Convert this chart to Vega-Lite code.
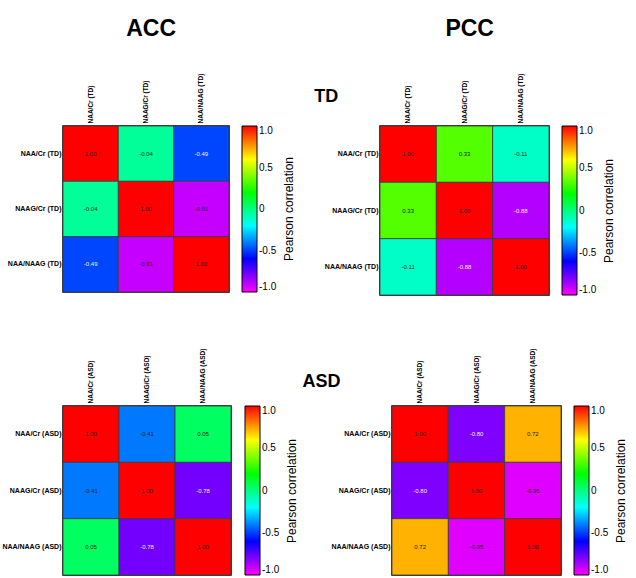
{
  "$schema": "https://vega.github.io/schema/vega-lite/v6.json",
  "background": "white",
  "padding": {"left": 1, "top": 17, "right": 0, "bottom": 0},
  "config": {
    "font": "Liberation Sans",
    "locale": {"number": {"decimal": ".", "thousands": ",", "grouping": [3], "currency": ["$", ""], "minus": "-"}},
    "view": {"stroke": "black", "strokeWidth": 1.5},
    "axis": {"labelColor": "black", "ticks": false, "domain": false, "grid": false},
    "legend": {"labelColor": "black", "titleColor": "black"}
  },
  "datasets": {
    "acc_td": [
      {"row": "NAA/Cr (TD)", "col": "NAA/Cr (TD)", "r": 1.0},
      {"row": "NAA/Cr (TD)", "col": "NAAG/Cr (TD)", "r": -0.04},
      {"row": "NAA/Cr (TD)", "col": "NAA/NAAG (TD)", "r": -0.49},
      {"row": "NAAG/Cr (TD)", "col": "NAA/Cr (TD)", "r": -0.04},
      {"row": "NAAG/Cr (TD)", "col": "NAAG/Cr (TD)", "r": 1.0},
      {"row": "NAAG/Cr (TD)", "col": "NAA/NAAG (TD)", "r": -0.91},
      {"row": "NAA/NAAG (TD)", "col": "NAA/Cr (TD)", "r": -0.49},
      {"row": "NAA/NAAG (TD)", "col": "NAAG/Cr (TD)", "r": -0.91},
      {"row": "NAA/NAAG (TD)", "col": "NAA/NAAG (TD)", "r": 1.0}
    ],
    "pcc_td": [
      {"row": "NAA/Cr (TD)", "col": "NAA/Cr (TD)", "r": 1.0},
      {"row": "NAA/Cr (TD)", "col": "NAAG/Cr (TD)", "r": 0.33},
      {"row": "NAA/Cr (TD)", "col": "NAA/NAAG (TD)", "r": -0.11},
      {"row": "NAAG/Cr (TD)", "col": "NAA/Cr (TD)", "r": 0.33},
      {"row": "NAAG/Cr (TD)", "col": "NAAG/Cr (TD)", "r": 1.0},
      {"row": "NAAG/Cr (TD)", "col": "NAA/NAAG (TD)", "r": -0.88},
      {"row": "NAA/NAAG (TD)", "col": "NAA/Cr (TD)", "r": -0.11},
      {"row": "NAA/NAAG (TD)", "col": "NAAG/Cr (TD)", "r": -0.88},
      {"row": "NAA/NAAG (TD)", "col": "NAA/NAAG (TD)", "r": 1.0}
    ],
    "acc_asd": [
      {"row": "NAA/Cr (ASD)", "col": "NAA/Cr (ASD)", "r": 1.0},
      {"row": "NAA/Cr (ASD)", "col": "NAAG/Cr (ASD)", "r": -0.41},
      {"row": "NAA/Cr (ASD)", "col": "NAA/NAAG (ASD)", "r": 0.05},
      {"row": "NAAG/Cr (ASD)", "col": "NAA/Cr (ASD)", "r": -0.41},
      {"row": "NAAG/Cr (ASD)", "col": "NAAG/Cr (ASD)", "r": 1.0},
      {"row": "NAAG/Cr (ASD)", "col": "NAA/NAAG (ASD)", "r": -0.78},
      {"row": "NAA/NAAG (ASD)", "col": "NAA/Cr (ASD)", "r": 0.05},
      {"row": "NAA/NAAG (ASD)", "col": "NAAG/Cr (ASD)", "r": -0.78},
      {"row": "NAA/NAAG (ASD)", "col": "NAA/NAAG (ASD)", "r": 1.0}
    ],
    "pcc_asd": [
      {"row": "NAA/Cr (ASD)", "col": "NAA/Cr (ASD)", "r": 1.0},
      {"row": "NAA/Cr (ASD)", "col": "NAAG/Cr (ASD)", "r": -0.80},
      {"row": "NAA/Cr (ASD)", "col": "NAA/NAAG (ASD)", "r": 0.72},
      {"row": "NAAG/Cr (ASD)", "col": "NAA/Cr (ASD)", "r": -0.80},
      {"row": "NAAG/Cr (ASD)", "col": "NAAG/Cr (ASD)", "r": 1.0},
      {"row": "NAAG/Cr (ASD)", "col": "NAA/NAAG (ASD)", "r": -0.95},
      {"row": "NAA/NAAG (ASD)", "col": "NAA/Cr (ASD)", "r": 0.72},
      {"row": "NAA/NAAG (ASD)", "col": "NAAG/Cr (ASD)", "r": -0.95},
      {"row": "NAA/NAAG (ASD)", "col": "NAA/NAAG (ASD)", "r": 1.0}
    ]
  },
  "spacing": 50,
  "resolve": {"scale": {"color": "independent"}, "legend": {"color": "independent"}},
  "vconcat": [
    {
      "title": {"text": "TD", "fontSize": 18, "fontWeight": "bold", "anchor": "middle", "offset": -89, "dx": 15},
      "spacing": 27,
      "resolve": {"scale": {"color": "independent"}, "legend": {"color": "independent"}},
      "hconcat": [
        {
          "width": 166, "height": 166,
          "title": {"text": "ACC", "fontSize": 23, "fontWeight": "bold", "offset": 32, "anchor": "middle", "frame": "bounds"},
          "data": {"name": "acc_td"},
          "encoding": {
            "x": {"field": "col", "type": "nominal", "sort": ["NAA/Cr (TD)", "NAAG/Cr (TD)", "NAA/NAAG (TD)"], "title": null, "axis": {"orient": "top", "labelAngle": -90, "labelFontSize": 6.5, "labelFontWeight": "bold", "labelPadding": 3}},
            "y": {"field": "row", "type": "nominal", "sort": ["NAA/Cr (TD)", "NAAG/Cr (TD)", "NAA/NAAG (TD)"], "title": null, "axis": {"labelFontSize": 7, "labelFontWeight": "bold", "labelPadding": 2}}
          },
          "layer": [
            {"mark": {"type": "rect", "stroke": "#3a3a3a", "strokeWidth": 0.8},
             "encoding": {"color": {"field": "r", "type": "quantitative",
               "scale": {"domain": [-1, -0.6, -0.2, 0.2, 0.6, 1], "range": ["#ff00ff", "#0000ff", "#00ffff", "#00ff00", "#ffff00", "#ff0000"], "interpolate": "rgb"},
               "legend": {"title": "Pearson correlation", "titleOrient": "right", "titlePadding": 8, "gradientLength": 166, "gradientThickness": 15, "values": [-1, -0.5, 0, 0.5, 1], "labelExpr": "datum.value == 0 ? '0' : format(datum.value, '.1f')", "labelFontSize": 10, "titleFontSize": 12, "titleFontWeight": "normal", "offset": 13, "gradientStrokeColor": "black", "gradientStrokeWidth": 1, "encode": {"title": {"update": {"angle": {"value": -90}, "baseline": {"value": "top"}}}}}}}},
            {"mark": {"type": "text", "fontSize": 6},
             "encoding": {"text": {"field": "r", "type": "quantitative", "format": ".2f"},
               "color": {"condition": {"test": "datum.r <= -0.45 && datum.r >= -0.89", "value": "#f2f2f2"}, "value": "#222222"}}}
          ]
        },
        {
          "width": 169, "height": 169,
          "title": {"text": "PCC", "fontSize": 23, "fontWeight": "bold", "offset": 32, "anchor": "middle", "frame": "bounds"},
          "data": {"name": "pcc_td"},
          "encoding": {
            "x": {"field": "col", "type": "nominal", "sort": ["NAA/Cr (TD)", "NAAG/Cr (TD)", "NAA/NAAG (TD)"], "title": null, "axis": {"orient": "top", "labelAngle": -90, "labelFontSize": 6.5, "labelFontWeight": "bold", "labelPadding": 3}},
            "y": {"field": "row", "type": "nominal", "sort": ["NAA/Cr (TD)", "NAAG/Cr (TD)", "NAA/NAAG (TD)"], "title": null, "axis": {"labelFontSize": 7, "labelFontWeight": "bold", "labelPadding": 2}}
          },
          "layer": [
            {"mark": {"type": "rect", "stroke": "#3a3a3a", "strokeWidth": 0.8},
             "encoding": {"color": {"field": "r", "type": "quantitative",
               "scale": {"domain": [-1, -0.6, -0.2, 0.2, 0.6, 1], "range": ["#ff00ff", "#0000ff", "#00ffff", "#00ff00", "#ffff00", "#ff0000"], "interpolate": "rgb"},
               "legend": {"title": "Pearson correlation", "titleOrient": "right", "titlePadding": 8, "gradientLength": 169, "gradientThickness": 15, "values": [-1, -0.5, 0, 0.5, 1], "labelExpr": "datum.value == 0 ? '0' : format(datum.value, '.1f')", "labelFontSize": 10, "titleFontSize": 12, "titleFontWeight": "normal", "offset": 13, "gradientStrokeColor": "black", "gradientStrokeWidth": 1, "encode": {"title": {"update": {"angle": {"value": -90}, "baseline": {"value": "top"}}}}}}}},
            {"mark": {"type": "text", "fontSize": 6},
             "encoding": {"text": {"field": "r", "type": "quantitative", "format": ".2f"},
               "color": {"condition": {"test": "datum.r <= -0.45 && datum.r >= -0.89", "value": "#f2f2f2"}, "value": "#222222"}}}
          ]
        }
      ]
    },
    {
      "title": {"text": "ASD", "fontSize": 18, "fontWeight": "bold", "anchor": "middle", "offset": -44, "dx": 7},
      "spacing": 31,
      "resolve": {"scale": {"color": "independent"}, "legend": {"color": "independent"}},
      "hconcat": [
        {
          "width": 168, "height": 169,
          "data": {"name": "acc_asd"},
          "encoding": {
            "x": {"field": "col", "type": "nominal", "sort": ["NAA/Cr (ASD)", "NAAG/Cr (ASD)", "NAA/NAAG (ASD)"], "title": null, "axis": {"orient": "top", "labelAngle": -90, "labelFontSize": 6.5, "labelFontWeight": "bold", "labelPadding": 3}},
            "y": {"field": "row", "type": "nominal", "sort": ["NAA/Cr (ASD)", "NAAG/Cr (ASD)", "NAA/NAAG (ASD)"], "title": null, "axis": {"labelFontSize": 7, "labelFontWeight": "bold", "labelPadding": 2}}
          },
          "layer": [
            {"mark": {"type": "rect", "stroke": "#3a3a3a", "strokeWidth": 0.8},
             "encoding": {"color": {"field": "r", "type": "quantitative",
               "scale": {"domain": [-1, -0.6, -0.2, 0.2, 0.6, 1], "range": ["#ff00ff", "#0000ff", "#00ffff", "#00ff00", "#ffff00", "#ff0000"], "interpolate": "rgb"},
               "legend": {"title": "Pearson correlation", "titleOrient": "right", "titlePadding": 8, "gradientLength": 169, "gradientThickness": 15, "values": [-1, -0.5, 0, 0.5, 1], "labelExpr": "datum.value == 0 ? '0' : format(datum.value, '.1f')", "labelFontSize": 10, "titleFontSize": 12, "titleFontWeight": "normal", "offset": 14, "gradientStrokeColor": "black", "gradientStrokeWidth": 1, "encode": {"title": {"update": {"angle": {"value": -90}, "baseline": {"value": "top"}}}}}}}},
            {"mark": {"type": "text", "fontSize": 6},
             "encoding": {"text": {"field": "r", "type": "quantitative", "format": ".2f"},
               "color": {"condition": {"test": "datum.r <= -0.45 && datum.r >= -0.89", "value": "#f2f2f2"}, "value": "#222222"}}}
          ]
        },
        {
          "width": 169, "height": 169,
          "data": {"name": "pcc_asd"},
          "encoding": {
            "x": {"field": "col", "type": "nominal", "sort": ["NAA/Cr (ASD)", "NAAG/Cr (ASD)", "NAA/NAAG (ASD)"], "title": null, "axis": {"orient": "top", "labelAngle": -90, "labelFontSize": 6.5, "labelFontWeight": "bold", "labelPadding": 3}},
            "y": {"field": "row", "type": "nominal", "sort": ["NAA/Cr (ASD)", "NAAG/Cr (ASD)", "NAA/NAAG (ASD)"], "title": null, "axis": {"labelFontSize": 7, "labelFontWeight": "bold", "labelPadding": 2}}
          },
          "layer": [
            {"mark": {"type": "rect", "stroke": "#3a3a3a", "strokeWidth": 0.8},
             "encoding": {"color": {"field": "r", "type": "quantitative",
               "scale": {"domain": [-1, -0.6, -0.2, 0.2, 0.6, 1], "range": ["#ff00ff", "#0000ff", "#00ffff", "#00ff00", "#ffff00", "#ff0000"], "interpolate": "rgb"},
               "legend": {"title": "Pearson correlation", "titleOrient": "right", "titlePadding": 8, "gradientLength": 169, "gradientThickness": 15, "values": [-1, -0.5, 0, 0.5, 1], "labelExpr": "datum.value == 0 ? '0' : format(datum.value, '.1f')", "labelFontSize": 10, "titleFontSize": 12, "titleFontWeight": "normal", "offset": 13, "gradientStrokeColor": "black", "gradientStrokeWidth": 1, "encode": {"title": {"update": {"angle": {"value": -90}, "baseline": {"value": "top"}}}}}}}},
            {"mark": {"type": "text", "fontSize": 6},
             "encoding": {"text": {"field": "r", "type": "quantitative", "format": ".2f"},
               "color": {"condition": {"test": "datum.r <= -0.45 && datum.r >= -0.89", "value": "#f2f2f2"}, "value": "#222222"}}}
          ]
        }
      ]
    }
  ]
}
